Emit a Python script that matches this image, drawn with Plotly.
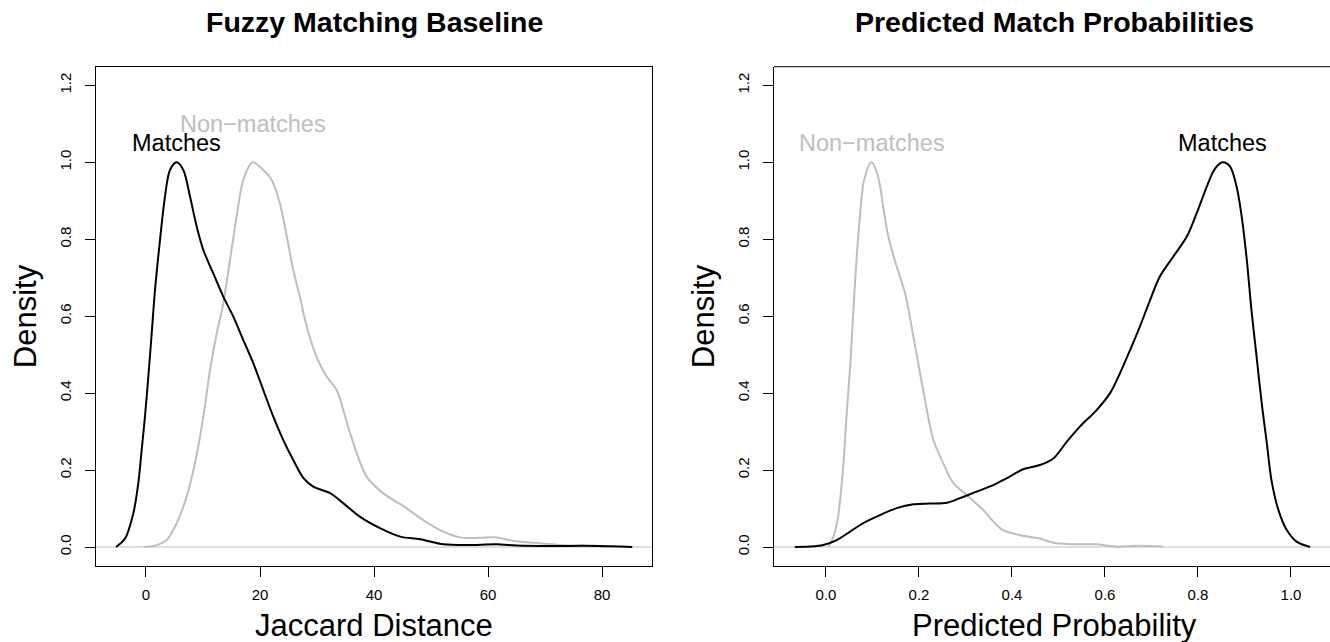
import plotly.graph_objects as go

# ---------------- data ----------------
jac_match_x = [-5.26, -3.68, -2.22, -1.35, -0.76, -0.18, 0.41, 1.0, 1.58, 2.46, 3.33, 4.21, 5.38, 6.55, 7.72,
               8.89, 10.06, 11.81, 13.56, 15.32, 17.07, 18.82, 20.58, 22.33, 24.09, 25.84, 27.6, 29.35, 32.3,
               34.6, 37.5, 41.05, 44.6, 48.1, 52.2, 56.3, 61.5, 65.0, 70.9, 76.7, 80.8, 83.2, 85.3]
jac_match_y = [0, 0.022, 0.088, 0.166, 0.252, 0.339, 0.443, 0.555, 0.668, 0.798, 0.911, 0.980, 1.0, 0.98, 0.911,
               0.833, 0.772, 0.711, 0.651, 0.599, 0.538, 0.478, 0.408, 0.339, 0.278, 0.226, 0.18, 0.157, 0.14,
               0.114, 0.079, 0.049, 0.027, 0.020, 0.007, 0.005, 0.007, 0.004, 0.0025, 0.003, 0.002, 0.001, 0]

jac_non_x = [-0.46, 1.87, 3.63, 5.38, 7.13, 8.6, 10.06, 11.23, 12.4, 13.56, 14.74, 15.9, 17.07, 18.7, 20.58,
             22.05, 23.5, 24.7, 25.84, 27.0, 28.2, 29.9, 31.7, 33.45, 35.8, 38.7, 41.6, 45.7, 48.1, 51.6, 55.1,
             58.6, 61.5, 64.4, 69.1, 73.8, 78.5, 80.5]
jac_non_y = [0, 0.005, 0.018, 0.062, 0.131, 0.218, 0.339, 0.46, 0.555, 0.633, 0.746, 0.859, 0.954, 1.0, 0.98,
             0.954, 0.893, 0.807, 0.72, 0.65, 0.573, 0.495, 0.443, 0.408, 0.296, 0.183, 0.140, 0.101, 0.075,
             0.044, 0.025, 0.024, 0.025, 0.016, 0.0095, 0.004, 0.0025, 0.001]

prob_non_x = [0.005, 0.016, 0.026, 0.037, 0.044, 0.052, 0.059, 0.066, 0.073, 0.082, 0.098, 0.112, 0.123, 0.134,
              0.152, 0.170, 0.188, 0.209, 0.231, 0.252, 0.274, 0.303, 0.338, 0.360, 0.381, 0.424, 0.46, 0.489,
              0.532, 0.582, 0.625, 0.675, 0.725]
prob_non_y = [0, 0.027, 0.079, 0.209, 0.339, 0.469, 0.616, 0.755, 0.859, 0.954, 1.0, 0.963, 0.885, 0.807,
              0.729, 0.660, 0.547, 0.408, 0.278, 0.218, 0.166, 0.135, 0.096, 0.066, 0.044, 0.029, 0.022, 0.011,
              0.007, 0.007, 0.001, 0.003, 0.001]

prob_match_x = [-0.067, -0.034, -0.006, 0.023, 0.052, 0.080, 0.116, 0.152, 0.188, 0.224, 0.260, 0.288, 0.324,
                0.360, 0.389, 0.424, 0.46, 0.489, 0.518, 0.546, 0.582, 0.611, 0.632, 0.654, 0.675, 0.697, 0.718,
                0.747, 0.776, 0.797, 0.819, 0.837, 0.853, 0.869, 0.883, 0.894, 0.905, 0.915, 0.926, 0.937, 0.948,
                0.958, 0.973, 0.991, 1.012, 1.041]
prob_match_y = [0, 0.001, 0.005, 0.018, 0.040, 0.062, 0.083, 0.101, 0.111, 0.113, 0.115, 0.127, 0.144, 0.161,
                0.179, 0.202, 0.213, 0.230, 0.274, 0.313, 0.356, 0.40, 0.451, 0.512, 0.573, 0.642, 0.703, 0.755,
                0.807, 0.867, 0.937, 0.984, 1.0, 0.989, 0.937, 0.859, 0.746, 0.616, 0.495, 0.374, 0.270, 0.174,
                0.096, 0.044, 0.014, 0.0]

jac_ticks = [0, 20, 40, 60, 80]
prob_ticks = [0.0, 0.2, 0.4, 0.6, 0.8, 1.0]
dens_ticks = [0.0, 0.2, 0.4, 0.6, 0.8, 1.0, 1.2]

titles = ["Fuzzy Matching Baseline", "Predicted Match Probabilities"]
xlabels = ["Jaccard Distance", "Predicted Probability"]
ylabel = "Density"

# ---------------- layout geometry ----------------
W, H = 1330, 642
FONT = "Liberation Sans, Arial, Helvetica, sans-serif"
BLACK = "#000000"
GRAY = "#BEBEBE"


def px_x(p):
    return p / W


def px_y(p):
    return 1 - p / H


top_px, bot_px = 66.7, 565.7
l1, r1 = 96, 652
l2, r2 = 774, 1330

fig = go.Figure()
line_kw = dict(shape="spline", smoothing=0.9)
fig.add_trace(go.Scatter(x=jac_non_x, y=jac_non_y, mode="lines", line=dict(color=GRAY, width=2, **line_kw),
                         xaxis="x", yaxis="y", showlegend=False, hoverinfo="skip"))
fig.add_trace(go.Scatter(x=jac_match_x, y=jac_match_y, mode="lines", line=dict(color=BLACK, width=2, **line_kw),
                         xaxis="x", yaxis="y", showlegend=False, hoverinfo="skip"))
fig.add_trace(go.Scatter(x=prob_non_x, y=prob_non_y, mode="lines", line=dict(color=GRAY, width=2, **line_kw),
                         xaxis="x2", yaxis="y2", showlegend=False, hoverinfo="skip"))
fig.add_trace(go.Scatter(x=prob_match_x, y=prob_match_y, mode="lines", line=dict(color=BLACK, width=2, **line_kw),
                         xaxis="x2", yaxis="y2", showlegend=False, hoverinfo="skip"))

tick_font = dict(family=FONT, size=15, color=BLACK)
ax_common = dict(showgrid=False, zeroline=False, ticks="outside", ticklen=10, tickwidth=1, tickcolor=BLACK,
                 showline=True, linecolor=BLACK, linewidth=1, tickfont=tick_font)

yrange = [-0.0486, 1.2485]
fig.update_layout(
    width=W, height=H, margin=dict(l=0, r=0, t=0, b=0),
    paper_bgcolor="white", plot_bgcolor="white",
    xaxis=dict(domain=[px_x(l1), px_x(r1)], range=[-8.77, 88.77], tickvals=jac_ticks,
               ticktext=[str(v) for v in jac_ticks], anchor="y", mirror=True, ticklabelstandoff=5, **ax_common),
    yaxis=dict(domain=[px_y(bot_px), px_y(top_px)], range=yrange, tickvals=dens_ticks,
               ticktext=[f"{v:.1f}" for v in dens_ticks], tickangle=-90, anchor="x", mirror=True,
               ticklabelstandoff=8, **ax_common),
    xaxis2=dict(domain=[px_x(l2), 1.0], range=[-0.1118, 1.0839], tickvals=prob_ticks,
                ticktext=[f"{v:.1f}" for v in prob_ticks], anchor="y2", ticklabelstandoff=5, **ax_common),
    yaxis2=dict(domain=[px_y(bot_px), px_y(top_px)], range=yrange, tickvals=dens_ticks,
                ticktext=[f"{v:.1f}" for v in dens_ticks], tickangle=-90, anchor="x2",
                ticklabelstandoff=8, **ax_common),
)

shapes = []
# zero lines
for xr, yr in [("x domain", "y"), ("x2 domain", "y2")]:
    shapes.append(dict(type="line", xref=xr, yref=yr, x0=0, x1=1, y0=0, y1=0,
                       line=dict(color=GRAY, width=1), layer="below"))
# top border of the right panel (its right edge falls outside the page)
shapes.append(dict(type="line", xref="x2 domain", yref="y2 domain", x0=0, x1=1, y0=1, y1=1,
                   line=dict(color=BLACK, width=1)))
fig.update_layout(shapes=shapes)

ann = []
lab_font = dict(family=FONT, size=23.5)
ann.append(dict(x=5.4, y=1.05, xref="x", yref="y", text="Matches", showarrow=False,
                font=dict(color=BLACK, **lab_font), xanchor="center", yanchor="middle"))
ann.append(dict(x=18.7, y=1.10, xref="x", yref="y", text="Non\u2212matches", showarrow=False,
                font=dict(color=GRAY, **lab_font), xanchor="center", yanchor="middle"))
ann.append(dict(x=0.1, y=1.05, xref="x2", yref="y2", text="Non\u2212matches", showarrow=False,
                font=dict(color=GRAY, **lab_font), xanchor="center", yanchor="middle"))
ann.append(dict(x=0.853, y=1.05, xref="x2", yref="y2", text="Matches", showarrow=False,
                font=dict(color=BLACK, **lab_font), xanchor="center", yanchor="middle"))

title_font = dict(family=FONT, size=28.5, color=BLACK)
axt_font = dict(family=FONT, size=31, color=BLACK)
centers = [(l1 + r1) / 2, (l2 + 1334) / 2]
for i in range(2):
    ann.append(dict(x=px_x(centers[i]), y=px_y(22), xref="paper", yref="paper", text="<b>%s</b>" % titles[i],
                    showarrow=False, font=title_font, xanchor="center", yanchor="middle"))
    ann.append(dict(x=px_x(centers[i]), y=px_y(625), xref="paper", yref="paper", text=xlabels[i],
                    showarrow=False, font=axt_font, xanchor="center", yanchor="middle"))
ann.append(dict(x=px_x(25), y=px_y((top_px + bot_px) / 2), xref="paper", yref="paper", text=ylabel,
                textangle=-90, showarrow=False, font=axt_font, xanchor="center", yanchor="middle"))
ann.append(dict(x=px_x(25 + l2 - l1), y=px_y((top_px + bot_px) / 2), xref="paper", yref="paper", text=ylabel,
                textangle=-90, showarrow=False, font=axt_font, xanchor="center", yanchor="middle"))
fig.update_layout(annotations=ann)

fig.write_html("out.html")
